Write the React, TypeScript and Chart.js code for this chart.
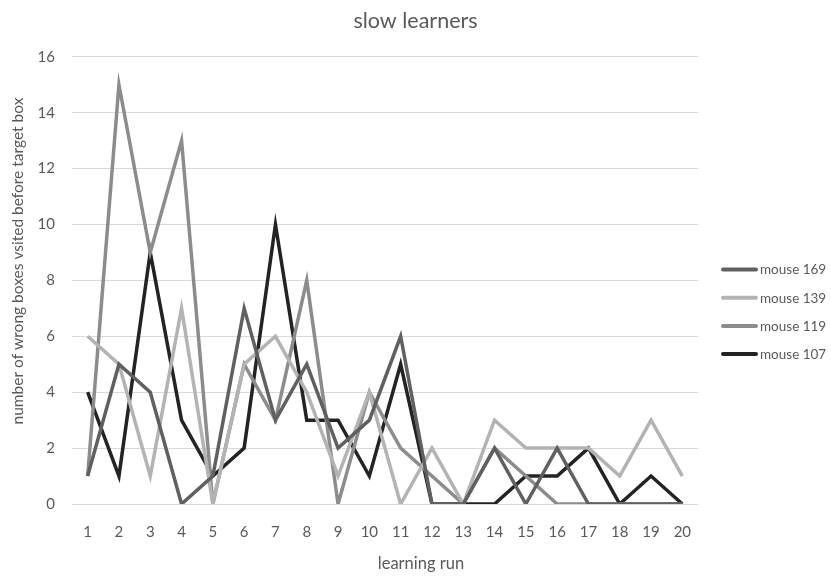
import React, { useEffect, useRef } from "react";
import { Chart, registerables } from "chart.js";

Chart.register(...registerables);

const runs = ["1","2","3","4","5","6","7","8","9","10","11","12","13","14","15","16","17","18","19","20"];
const mouse169 = [1,5,4,0,1,7,3,5,2,3,6,0,0,2,0,2,0,0,0,0];
const mouse139 = [6,5,1,7,0,5,6,4,1,4,0,2,0,3,2,2,2,1,3,1];
const mouse119 = [1,15,9,13,0,5,3,8,0,4,2,1,0,2,1,0,0,0,0,0];
const mouse107 = [4,1,9,3,1,2,10,3,3,1,5,0,0,0,1,1,2,0,1,0];
const seriesNames = ["mouse 169", "mouse 139", "mouse 119", "mouse 107"];
const seriesColors = ["#606060", "#b3b3b3", "#8c8c8c", "#232323"];
const xTitle = "learning run";
const yTitle = "number of wrong boxes vsited before target box";

const FONT = "Lato, 'Open Sans', sans-serif";
const TEXT = "#595959";

const decorPlugin = {
  id: "excelDecor",
  afterDraw(chart: any) {
    const ctx = chart.ctx as CanvasRenderingContext2D;
    ctx.save();
    ctx.fillStyle = TEXT;
    // axis titles
    ctx.font = `15.5px ${FONT}`;
    ctx.textAlign = "center";
    ctx.textBaseline = "middle";
    ctx.save();
    ctx.translate(17.5, 261);
    ctx.rotate(-Math.PI / 2);
    ctx.fillText(yTitle, 0, 0);
    ctx.restore();
    ctx.font = `16.5px ${FONT}`;
    ctx.fillText(xTitle, 421, 564);
    // legend
    ctx.font = `13.5px ${FONT}`;
    ctx.textAlign = "left";
    chart.data.datasets.forEach((ds: any, i: number) => {
      const y = 269.5 + i * 28.2;
      ctx.strokeStyle = ds.borderColor;
      ctx.lineWidth = 4;
      ctx.lineCap = "round";
      ctx.beginPath();
      ctx.moveTo(723, y);
      ctx.lineTo(756, y);
      ctx.stroke();
      ctx.fillText(ds.label, 760, y + 0.5);
    });
    ctx.restore();
  },
};

export default function App() {
  const ref = useRef<HTMLCanvasElement | null>(null);
  useEffect(() => {
    if (!ref.current) return;
    const values = [mouse169, mouse139, mouse119, mouse107];
    const chart = new Chart(ref.current, {
      type: "line",
      data: {
        labels: runs,
        datasets: values.map((v, i) => ({
          label: seriesNames[i],
          data: v,
          borderColor: seriesColors[i],
          backgroundColor: seriesColors[i],
          borderWidth: 3.5,
          pointRadius: 0,
          tension: 0,
          fill: false,
        })),
      },
      options: {
        animation: false,
        responsive: false,
        maintainAspectRatio: false,
        layout: { padding: 0 },
        plugins: {
          title: {
            display: true,
            text: "slow learners",
            color: TEXT,
            font: { family: FONT, size: 21.5, weight: "normal" },
            padding: { top: 8, bottom: 23 },
          },
          legend: { display: false },
          tooltip: { enabled: false },
        },
        scales: {
          x: {
            offset: true,
            grid: { display: false, drawTicks: false },
            border: { display: false },
            ticks: { color: TEXT, font: { family: FONT, size: 15 }, padding: 19, maxRotation: 0, autoSkip: false },
            afterFit: (s: any) => { s.height = 72; },
          },
          y: {
            min: 0,
            max: 16,
            grid: { color: "#d9d9d9", lineWidth: 1, drawTicks: false },
            border: { display: false },
            ticks: { stepSize: 2, color: TEXT, font: { family: FONT, size: 15 }, padding: 17 },
            afterFit: (s: any) => { s.width = 72; },
          },
          legendSpace: {
            type: "linear",
            position: "right",
            display: true,
            grid: { display: false, drawTicks: false },
            border: { display: false },
            ticks: { display: false },
            afterFit: (s: any) => { s.width = 133; },
          },
        },
      },
      plugins: [decorPlugin],
    });
    return () => chart.destroy();
  }, []);
  return (
    <div style={{ position: "fixed", left: 0, top: 0, width: 831, height: 576, background: "#fff" }}>
      <canvas ref={ref} width={831} height={576} style={{ width: 831, height: 576 }} />
    </div>
  );
}
